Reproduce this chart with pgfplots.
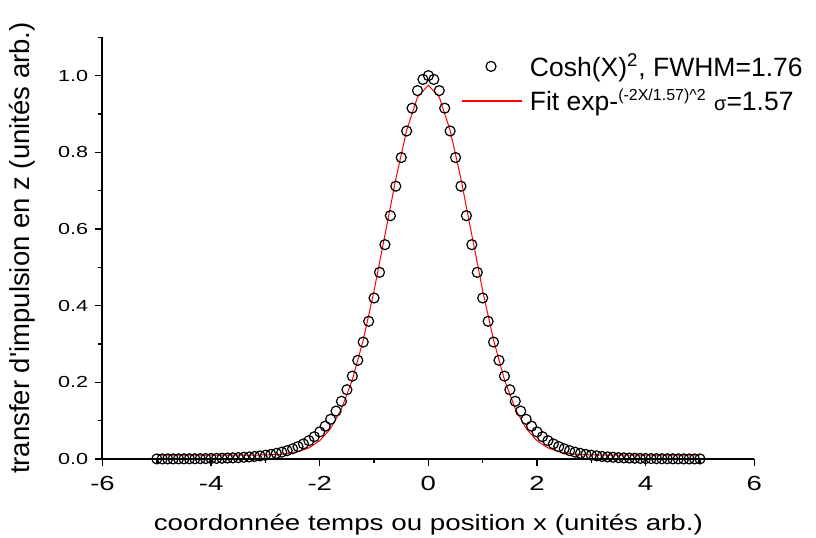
\documentclass[border=0pt]{standalone}
\usepackage{pgfplots}
\pgfplotsset{compat=1.18}
\usepackage{pgfplotstable}
\usepackage{fontspec}
\setmainfont{Liberation Sans}
\newfontfamily\tickfont{Liberation Sans}[FakeStretch=1.35]
\newfontfamily\xlabfont{Liberation Sans}[FakeStretch=1.25]

\pgfplotsset{
  circleleg/.style={legend image code/.code={\draw[mark repeat=2,mark phase=2,##1] plot coordinates {(0pt,0pt) (14.6pt,0pt) (29.2pt,0pt)};}},
  lineleg/.style={legend image code/.code={\draw[red, line width=0.7pt] (0pt,0pt) -- (30.2pt,0pt);}},
}

\pgfplotstableread{
x y
-5.0 0.0002
-4.9 0.0002
-4.8 0.0003
-4.7 0.0003
-4.6 0.0004
-4.5 0.0005
-4.4 0.0006
-4.3 0.0007
-4.2 0.0009
-4.1 0.0011
-4.0 0.0013
-3.9 0.0016
-3.8 0.0020
-3.7 0.0024
-3.6 0.0030
-3.5 0.0036
-3.4 0.0045
-3.3 0.0054
-3.2 0.0066
-3.1 0.0081
-3.0 0.0099
-2.9 0.0120
-2.8 0.0147
-2.7 0.0179
-2.6 0.0218
-2.5 0.0266
-2.4 0.0324
-2.3 0.0394
-2.2 0.0479
-2.1 0.0582
-2.0 0.0707
-1.9 0.0856
-1.8 0.1036
-1.7 0.1250
-1.6 0.1505
-1.5 0.1807
-1.4 0.2162
-1.3 0.2574
-1.2 0.3050
-1.1 0.3592
-1.0 0.4200
-0.9 0.4869
-0.8 0.5591
-0.7 0.6347
-0.6 0.7116
-0.5 0.7864
-0.4 0.8556
-0.3 0.9151
-0.2 0.9610
-0.1 0.9901
0.0 1.0000
0.1 0.9901
0.2 0.9610
0.3 0.9151
0.4 0.8556
0.5 0.7864
0.6 0.7116
0.7 0.6347
0.8 0.5591
0.9 0.4869
1.0 0.4200
1.1 0.3592
1.2 0.3050
1.3 0.2574
1.4 0.2162
1.5 0.1807
1.6 0.1505
1.7 0.1250
1.8 0.1036
1.9 0.0856
2.0 0.0707
2.1 0.0582
2.2 0.0479
2.3 0.0394
2.4 0.0324
2.5 0.0266
2.6 0.0218
2.7 0.0179
2.8 0.0147
2.9 0.0120
3.0 0.0099
3.1 0.0081
3.2 0.0066
3.3 0.0054
3.4 0.0045
3.5 0.0036
3.6 0.0030
3.7 0.0024
3.8 0.0020
3.9 0.0016
4.0 0.0013
4.1 0.0011
4.2 0.0009
4.3 0.0007
4.4 0.0006
4.5 0.0005
4.6 0.0004
4.7 0.0003
4.8 0.0003
4.9 0.0002
5.0 0.0002
}\sechdata

\pgfplotstableread{
x y
-5.0 0.0100
-4.0 0.0100
-3.4 0.0100
-3.2 0.0102
-3.0 0.0107
-2.8 0.0117
-2.6 0.0140
-2.4 0.0190
-2.2 0.0290
-2.0 0.0476
-1.8 0.0796
-1.6 0.1309
-1.4 0.2068
-1.2 0.3100
-1.0 0.4387
-0.8 0.5841
-0.6 0.7305
-0.4 0.8575
-0.2 0.9442
0.0 0.9750
0.2 0.9442
0.4 0.8575
0.6 0.7305
0.8 0.5841
1.0 0.4387
1.2 0.3100
1.4 0.2068
1.6 0.1309
1.8 0.0796
2.0 0.0476
2.2 0.0290
2.4 0.0190
2.6 0.0140
2.8 0.0117
3.0 0.0107
3.2 0.0102
3.4 0.0100
4.0 0.0100
5.0 0.0100
}\fitdata

\begin{document}
\begin{tikzpicture}
\begin{axis}[
  scale only axis,
  width=325.9pt, height=210.85pt,
  xmin=-6, xmax=6, ymin=0, ymax=1.1,
  axis x line*=bottom, axis y line*=left,
  axis line style={-, line width=1pt},
  xtick={-6,-4,-2,0,2,4,6},
  minor xtick={-5,-3,-1,1,3,5},
  ytick={0,0.2,0.4,0.6,0.8,1.0},
  minor ytick={0.1,0.3,0.5,0.7,0.9,1.1},
  tick align=outside,
  major tick length=3.6pt, minor tick length=2pt,
  every tick/.style={black, line width=0.7pt},
  /pgf/number format/assume math mode=true,
  yticklabel style={/pgf/number format/fixed, /pgf/number format/fixed zerofill,
     /pgf/number format/precision=1, font=\tickfont\fontsize{8}{9}\selectfont},
  xticklabel style={font=\tickfont\fontsize{10.2}{12}\selectfont, yshift=-1.5pt},
  xlabel={coordonnée temps ou position x (unités arb.)},
  xlabel style={font=\xlabfont\fontsize{11.1}{13}\selectfont, at={(axis description cs:0.5,0)}, anchor=base, yshift=-35.5pt},
  ylabel={transfer d\textquotesingle impulsion en z (unités arb.)},
  ylabel style={font=\fontsize{13.75}{15}\selectfont, yshift=4.5pt},
  legend style={draw=none, fill=none, at={(rel axis cs:0.5496,0.968)}, anchor=north west,
     font=\fontsize{13.25}{15}\selectfont, inner sep=0pt, nodes={inner sep=1pt},
     column sep=2.5pt, row sep=2.5pt},
  legend cell align=left,
]
\addplot[only marks, mark=o, mark size=2.5pt,
  mark options={fill=white, draw=black, line width=0.6pt}, circleleg]
  table[x=x,y=y] {\sechdata};
\addlegendentry{Cosh(X)\textsuperscript{2}, FWHM=1.76}
\addplot[red, line width=0.5pt, mark=none, lineleg]
  table[x=x,y=y] {\fitdata};
\addlegendentry{Fit exp-\textsuperscript{\fontsize{8}{8}\selectfont(-2X/1.57)\textasciicircum 2} {\fontsize{10}{10}\selectfont σ}=1.57}
\end{axis}
\pgfresetboundingbox
\path[use as bounding box] (-51.25pt,-39pt) rectangle (356.75pt,229.5pt);
\end{tikzpicture}
\end{document}
